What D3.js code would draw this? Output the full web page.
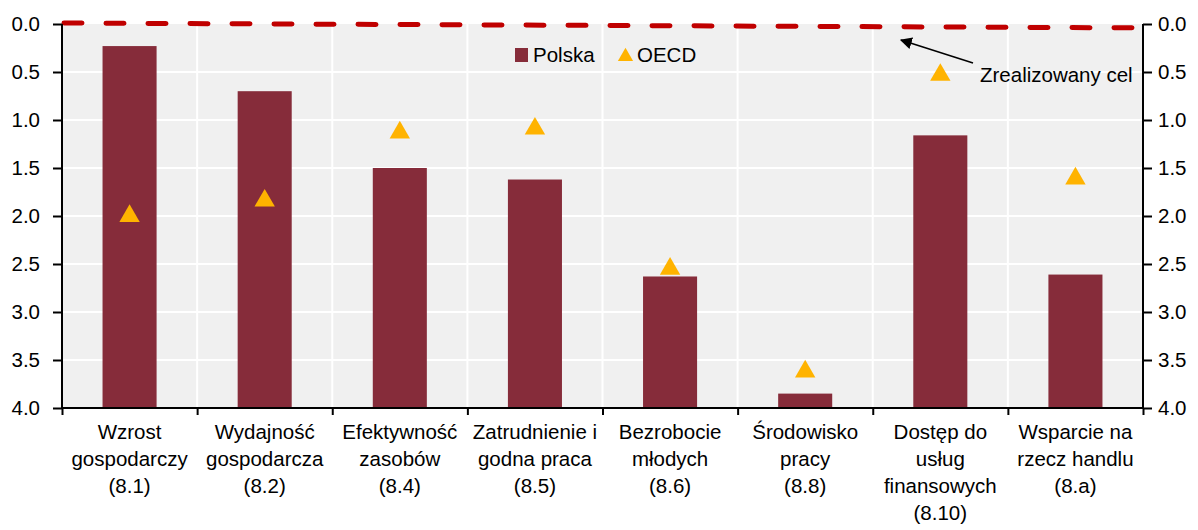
<!DOCTYPE html>
<html><head><meta charset="utf-8">
<script src="https://cdn.jsdelivr.net/npm/d3@7"></script>
<style>body{margin:0;background:#fff}svg{display:block;font-family:"Liberation Sans",Arial,sans-serif}</style>
</head><body><svg id="c" width="1198" height="530"></svg>
<script>
const categories = [
  ["Wzrost","gospodarczy","(8.1)"],
  ["Wydajność","gospodarcza","(8.2)"],
  ["Efektywność","zasobów","(8.4)"],
  ["Zatrudnienie i","godna praca","(8.5)"],
  ["Bezrobocie","młodych","(8.6)"],
  ["Środowisko","pracy","(8.8)"],
  ["Dostęp do","usług","finansowych","(8.10)"],
  ["Wsparcie na","rzecz handlu","(8.a)"]
];
const polska = [0.23, 0.70, 1.50, 1.62, 2.63, 3.85, 1.16, 2.61];
const oecd = [1.99, 1.83, 1.12, 1.08, 2.54, 3.61, 0.52, 1.60];
const target = [0.0, 0.03];
const yTicks = [0,0.5,1,1.5,2,2.5,3,3.5,4];

const svg = d3.select("#c");
const L = 62, R = 1143, T = 24, B = 408;
const x = d3.scaleBand().domain(d3.range(categories.length)).range([L,R]).paddingInner(0).paddingOuter(0);
const y = d3.scaleLinear().domain([0,4]).range([T,B]);

svg.append("rect").attr("x",L).attr("y",T).attr("width",R-L).attr("height",B-T).attr("fill","#F0F0F0");
// gridlines
svg.append("g").selectAll("line").data(yTicks.slice(1,-1)).join("line")
  .attr("x1",L).attr("x2",R).attr("y1",d=>y(d)).attr("y2",d=>y(d)).attr("stroke","#fff").attr("stroke-width",2);
svg.append("g").selectAll("line").data(d3.range(1,categories.length)).join("line")
  .attr("x1",d=>x(d)).attr("x2",d=>x(d)).attr("y1",T).attr("y2",B).attr("stroke","#fff").attr("stroke-width",2);

// bars
const bw = x.bandwidth()*0.4;
svg.append("g").selectAll("rect").data(polska).join("rect")
  .attr("x",(d,i)=>x(i)+x.bandwidth()/2-bw/2).attr("width",bw)
  .attr("y",d=>y(d)).attr("height",d=>y(4)-y(d)).attr("fill","#862C3A");

// triangles
const tri = d3.symbol().type(d3.symbolTriangle).size(180);
svg.append("g").selectAll("path").data(oecd).join("path")
  .attr("d",tri).attr("transform",(d,i)=>`translate(${x(i)+x.bandwidth()/2},${y(d)+1})`).attr("fill","#FFB300");

// target line
const tx = d3.scaleLinear().domain([0,1]).range([L+2,R-3]);
svg.append("line").attr("x1",tx(0)).attr("x2",tx(1)).attr("y1",y(target[0])-1).attr("y2",y(target[1])+1)
  .attr("stroke","#C00000").attr("stroke-width",5).attr("stroke-linecap","round").attr("stroke-dasharray","18,24");

// axes
const fs = "20.5px";
const yl = d3.axisLeft(y).tickValues(yTicks).tickFormat(d3.format(".1f")).tickSize(9).tickPadding(13);
const gl = svg.append("g").attr("transform",`translate(${L},0)`).call(yl);
const yr = d3.axisRight(y).tickValues(yTicks).tickFormat(d3.format(".1f")).tickSize(9).tickPadding(6);
const gr = svg.append("g").attr("transform",`translate(${R},0)`).call(yr);
const xa = d3.axisBottom(d3.scaleLinear().domain([0,categories.length]).range([L,R])).tickValues(d3.range(categories.length+1)).tickSize(7).tickFormat("");
const gx = svg.append("g").attr("transform",`translate(0,${B})`).call(xa);
[gl,gr,gx].forEach(g=>{
  g.select(".domain").attr("stroke","#000").attr("stroke-width",2);
  g.selectAll(".tick line").attr("stroke","#000").attr("stroke-width",2);
  g.selectAll("text").attr("font-size",fs).attr("fill","#000").attr("font-family","Liberation Sans, Arial, sans-serif");
});
gl.select(".domain").attr("d",`M0,${T}V${B}`);
gr.select(".domain").attr("d",`M0,${T}V${B}`);
gx.select(".domain").attr("d",`M${L},0H${R}`);

// x labels
const lab = svg.append("g").attr("font-size",fs).attr("text-anchor","middle");
categories.forEach((lines,i)=>{
  const t = lab.append("text").attr("x",x(i)+x.bandwidth()/2).attr("y",439);
  lines.forEach((s,j)=>t.append("tspan").attr("x",x(i)+x.bandwidth()/2).attr("dy",j?27:0).text(s));
});

// legend
const lg = svg.append("g").attr("font-size",fs);
lg.append("rect").attr("x",515).attr("y",48).attr("width",13).attr("height",14).attr("fill","#862C3A");
lg.append("text").attr("x",533).attr("y",62).text("Polska");
lg.append("path").attr("d",d3.symbol().type(d3.symbolTriangle).size(100)).attr("transform","translate(625.5,56.5)").attr("fill","#FFB300");
lg.append("text").attr("x",637).attr("y",62).text("OECD");

// annotation
svg.append("defs").append("marker").attr("id","ah").attr("viewBox","0 0 10 10").attr("refX",9).attr("refY",5)
  .attr("markerWidth",8).attr("markerHeight",8).attr("orient","auto-start-reverse")
  .append("path").attr("d","M0,0L10,5L0,10z").attr("fill","#000");
svg.append("line").attr("x1",973).attr("y1",63).attr("x2",901).attr("y2",40).attr("stroke","#000").attr("stroke-width",1.5).attr("marker-end","url(#ah)");
svg.append("text").attr("x",980).attr("y",82).attr("font-size",fs).text("Zrealizowany cel");
</script></body></html>
